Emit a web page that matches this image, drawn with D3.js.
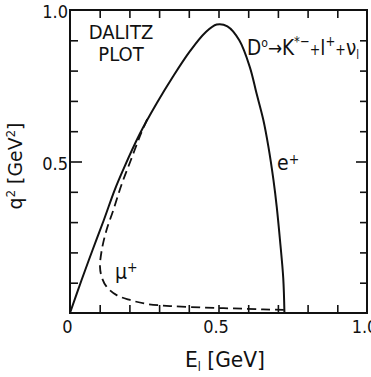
<!DOCTYPE html>
<html>
<head>
<meta charset="utf-8">
<script src="https://cdn.jsdelivr.net/npm/d3@7"></script>
<style>
  body { margin: 0; background: #fff; }
  svg text {
    font-family: "Liberation Sans Narrow", "DejaVu Sans Condensed", "Liberation Sans", Arial, sans-serif;
    fill: #111;
  }
</style>
</head>
<body>
<svg width="371" height="377"></svg>
<script>
// Dalitz plot boundary: [E_l (GeV), q^2 (GeV^2)]
const ePlus = [
  [0, 0], [0.039, 0.109], [0.076, 0.208], [0.114, 0.307], [0.150, 0.405],
  [0.180, 0.475], [0.236, 0.593], [0.292, 0.692], [0.348, 0.782], [0.404, 0.864],
  [0.455, 0.925], [0.494, 0.952], [0.530, 0.946], [0.570, 0.900], [0.606, 0.810],
  [0.628, 0.725], [0.651, 0.637], [0.668, 0.549], [0.685, 0.439], [0.696, 0.351],
  [0.707, 0.241], [0.718, 0.115], [0.722, 0]
];
const muPlus = [
  [0.260, 0.640], [0.236, 0.585], [0.205, 0.505], [0.174, 0.425], [0.146, 0.340],
  [0.123, 0.274], [0.107, 0.208], [0.101, 0.153], [0.107, 0.118], [0.123, 0.087],
  [0.157, 0.059], [0.202, 0.043], [0.258, 0.030], [0.337, 0.023], [0.450, 0.018],
  [0.550, 0.015], [0.650, 0.012], [0.720, 0.010]
];
const minorTicks = [0.1, 0.2, 0.3, 0.4, 0.6, 0.7, 0.8, 0.9];
const majorTicks = [0.5];
const xLabels = [0, 0.5, 1.0];
const xLabelText = ["0", "0.5", "1.0"];
const yLabels = [0.5, 1.0];
const yLabelText = ["0.5", "1.0"];

var svg = d3.select("svg");

// plot frame
var x = d3.scaleLinear().domain([0, 1]).range([70, 367]);
var y = d3.scaleLinear().domain([0, 1]).range([313, 10]);

function styleAxis(sel) {
  sel.select(".domain").remove();
  sel.selectAll("line").attr("stroke", "#111").attr("stroke-width", 1.6);
  sel.selectAll("text").attr("font-size", 18).attr("fill", "#111");
}

// inward ticks on all four sides
svg.append("g").attr("transform", "translate(0,313)")
  .call(d3.axisBottom(x).tickValues(minorTicks.concat(majorTicks)).tickSize(-8).tickFormat(""))
  .call(styleAxis);
svg.append("g").attr("transform", "translate(0,10)")
  .call(d3.axisTop(x).tickValues(minorTicks.concat(majorTicks)).tickSize(-8).tickFormat(""))
  .call(styleAxis);
svg.append("g").attr("transform", "translate(70,0)")
  .call(d3.axisLeft(y).tickValues(minorTicks).tickSize(-8).tickFormat(""))
  .call(styleAxis);
svg.append("g").attr("transform", "translate(70,0)")
  .call(d3.axisLeft(y).tickValues(majorTicks).tickSize(-12).tickFormat(""))
  .call(styleAxis);
svg.append("g").attr("transform", "translate(367,0)")
  .call(d3.axisRight(y).tickValues(minorTicks).tickSize(-7).tickFormat(""))
  .call(styleAxis);
svg.append("g").attr("transform", "translate(367,0)")
  .call(d3.axisRight(y).tickValues(majorTicks).tickSize(-11).tickFormat(""))
  .call(styleAxis);

// tick labels
svg.append("g").attr("transform", "translate(-3,313)")
  .call(d3.axisBottom(x).tickValues(xLabels).tickSize(0).tickPadding(7)
    .tickFormat((d, i) => xLabelText[i]))
  .call(styleAxis);
svg.append("g").attr("transform", "translate(70,2)")
  .call(d3.axisLeft(y).tickValues(yLabels).tickSize(0).tickPadding(2)
    .tickFormat((d, i) => yLabelText[i]))
  .call(styleAxis);

svg.append("rect")
  .attr("x", 70).attr("y", 10)
  .attr("width", 297).attr("height", 303)
  .attr("fill", "none").attr("stroke", "#111").attr("stroke-width", 2);

// curves
var line = d3.line()
  .x((d) => x(d[0]))
  .y((d) => y(d[1]))
  .curve(d3.curveCatmullRom.alpha(0.5));

svg.append("path").datum(ePlus)
  .attr("d", line)
  .attr("fill", "none").attr("stroke", "#111").attr("stroke-width", 2);

svg.append("path").datum(muPlus)
  .attr("d", line)
  .attr("fill", "none").attr("stroke", "#111").attr("stroke-width", 1.8)
  .attr("stroke-dasharray", "9,5");

// text annotations
function label(px, py, size, parts, len) {
  var t = svg.append("text").attr("x", px).attr("y", py).attr("font-size", size);
  parts.forEach(function (p) {
    var s = t.append("tspan").text(p[0]);
    if (p[1]) s.attr("dy", p[1]);
    if (p[2]) s.attr("font-size", p[2]);
  });
  if (len) t.attr("textLength", len).attr("lengthAdjust", "spacingAndGlyphs");
  return t;
}

svg.append("text").attr("x", 121).attr("y", 39).attr("font-size", 20)
  .attr("text-anchor", "middle").text("DALITZ");
svg.append("text").attr("x", 121).attr("y", 61).attr("font-size", 20)
  .attr("text-anchor", "middle").text("PLOT");

label(247, 55, 22, [
  ["D"], ["o", -8, 13], ["\u2192", 8, 20], ["K"], ["*\u2212", -9, 14],
  ["+", 9, 15], ["l"], ["+", -9, 14], ["+", 9, 15], ["\u03bd"], ["l", 4, 12]
], 112);

label(277, 170, 21, [["e"], ["+", -6, 14]]);
label(115, 279, 21, [["\u03bc"], ["+", -7, 14]]);

// axis titles
label(185, 367, 22, [["E"], ["l", 4, 12], [" [GeV]", -4]], 80);

var yt = svg.append("text")
  .attr("transform", "translate(22,166) rotate(-90)")
  .attr("text-anchor", "middle").attr("font-size", 19);
yt.append("tspan").text("q");
yt.append("tspan").text("2").attr("dy", -7).attr("font-size", 12);
yt.append("tspan").text(" [GeV").attr("dy", 7);
yt.append("tspan").text("2").attr("dy", -7).attr("font-size", 12);
yt.append("tspan").text("]").attr("dy", 7);
yt.attr("textLength", 87).attr("lengthAdjust", "spacingAndGlyphs");
</script>
</body>
</html>
